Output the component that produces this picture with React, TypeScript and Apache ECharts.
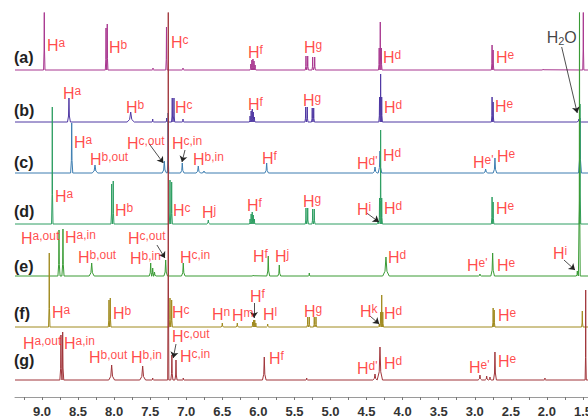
import React, { useEffect, useRef } from 'react';
import * as echarts from 'echarts';

const FONT = '"Liberation Sans", Arial, Helvetica, sans-serif';

// x axis (ppm)
const X_MIN = 1.43;
const X_MAX = 9.374;
const TICK_LABELS = [9.0, 8.5, 8.0, 7.5, 7.0, 6.5, 6.0, 5.5, 5.0, 4.5, 4.0, 3.5, 3.0, 2.5, 2.0, 1.5];
const MINOR_TICKS = [9.25, 9.0, 8.75, 8.5, 8.25, 8.0, 7.75, 7.5, 7.25, 7.0, 6.75, 6.5, 6.25, 6.0, 5.75, 5.5, 5.25, 5.0, 4.75, 4.5, 4.25, 4.0, 3.75, 3.5, 3.25, 3.0, 2.75, 2.5, 2.25, 2.0, 1.75, 1.5];

// spectra names
const SPECTRA = ['(a)', '(b)', '(c)', '(d)', '(e)', '(f)', '(g)'];

// peaks: [ppm, intensity, half width (ppm)]
const PEAKS_A = [
  [8.968, 80, 0.01],
  [8.112, 42, 0.01], [8.095, 46, 0.01],
  [7.461, 2, 0.01],
  [7.274, 43, 0.01],
  [7.045, 2, 0.01],
  [6.105, 6, 0.01], [6.09, 10, 0.01], [6.075, 11, 0.01], [6.06, 9, 0.01], [6.045, 5, 0.01],
  [5.34, 14, 0.01], [5.316, 14, 0.01], [5.247, 13, 0.01], [5.219, 13, 0.01],
  [4.325, 22, 0.01], [4.31, 48, 0.01], [4.295, 22, 0.01],
  [2.76, 25, 0.01], [2.745, 20, 0.01],
  [2.05, 1, 0.01],
  [1.495, 80, 0.008],
];
const PEAKS_B = [
  [8.626, 24, 0.02],
  [7.77, 10, 0.05],
  [7.465, 3, 0.01],
  [7.271, 4, 0.01],
  [7.194, 24, 0.01], [7.17, 24, 0.01],
  [7.045, 3, 0.01],
  [6.115, 6, 0.01], [6.1, 11, 0.01], [6.085, 13, 0.01], [6.07, 10, 0.01], [6.055, 5, 0.01],
  [5.344, 15, 0.01], [5.322, 15, 0.01], [5.253, 14, 0.01], [5.233, 14, 0.01],
  [4.32, 25, 0.01], [4.305, 48, 0.01], [4.29, 25, 0.01],
  [2.76, 25, 0.01], [2.745, 20, 0.01],
  [1.555, 3, 0.03],
];
const PEAKS_C = [
  [8.588, 50, 0.015],
  [8.265, 8, 0.04],
  [7.304, 12, 0.03],
  [7.252, 60, 0.01],
  [7.055, 10, 0.025],
  [6.833, 7, 0.03], [6.754, 2, 0.03],
  [5.885, 10, 0.025],
  [4.383, 6, 0.03],
  [4.314, 22, 0.025],
  [2.849, 4, 0.03],
  [2.72, 15, 0.025],
  [1.541, 55, 0.02],
];
const PEAKS_D = [
  [8.857, 117, 0.01],
  [8.034, 40, 0.01], [8.012, 43, 0.01],
  [7.225, 44, 0.01], [7.202, 42, 0.01],
  [6.694, 4, 0.02],
  [6.115, 5, 0.01], [6.1, 10, 0.01], [6.085, 12, 0.01], [6.07, 9, 0.01], [6.055, 5, 0.01],
  [5.34, 16, 0.01], [5.316, 16, 0.01], [5.247, 15, 0.01], [5.225, 15, 0.01],
  [4.342, 3, 0.01],
  [4.32, 26, 0.01], [4.305, 94, 0.01], [4.29, 26, 0.01],
  [2.76, 27, 0.01], [2.745, 22, 0.01],
  [1.541, 120, 0.01],
];
const PEAKS_E = [
  [8.764, 46, 0.015],
  [8.709, 47, 0.015],
  [8.311, 13, 0.035],
  [7.493, 13, 0.02], [7.465, 8, 0.02], [7.44, 4, 0.02],
  [7.285, 16, 0.025],
  [7.041, 13, 0.025],
  [6.07, 1, 0.01],
  [5.863, 20, 0.02],
  [5.71, 11, 0.02],
  [5.294, 3, 0.01],
  [4.231, 19, 0.045],
  [2.928, 2, 0.02],
  [2.752, 23, 0.025],
  [1.578, 5, 0.015],
  [1.548, 300, 0.01],
];
const PEAKS_F = [
  [8.899, 74, 0.01],
  [8.071, 27, 0.01], [8.053, 29, 0.01],
  [7.225, 29, 0.01], [7.202, 27, 0.01],
  [6.5, 4, 0.015],
  [6.292, 4, 0.015],
  [6.08, 5, 0.01], [6.065, 7, 0.01], [6.05, 7, 0.01], [6.035, 4, 0.01],
  [5.871, 3, 0.015],
  [5.316, 10, 0.01], [5.294, 10, 0.01], [5.225, 10, 0.01], [5.201, 10, 0.01],
  [4.324, 3, 0.01],
  [4.305, 15, 0.01], [4.29, 32, 0.01], [4.275, 15, 0.01],
  [2.745, 19, 0.01], [2.73, 17, 0.01],
  [1.509, 16, 0.01],
];
const PEAKS_G = [
  [8.737, 45, 0.015],
  [8.713, 48, 0.015],
  [8.034, 15, 0.04],
  [7.604, 14, 0.04],
  [7.465, 2, 0.01],
  [7.249, 400, 0.008],
  [7.199, 25, 0.015],
  [7.142, 20, 0.015],
  [7.041, 2, 0.01],
  [5.918, 23, 0.025],
  [5.33, 2, 0.01],
  [4.383, 6, 0.03],
  [4.314, 33, 0.035],
  [2.928, 5, 0.025], [2.835, 4, 0.02], [2.789, 3, 0.015],
  [2.72, 28, 0.02],
  [2.027, 2, 0.01],
  [1.462, 90, 0.008],
];
const PEAKS = [PEAKS_A, PEAKS_B, PEAKS_C, PEAKS_D, PEAKS_E, PEAKS_F, PEAKS_G];

// vertical stacking offsets of each spectrum (y axis units)
const OFFSETS = [327, 275, 224, 173, 121, 70, 17];
const COLORS = ['#A8378F', '#4F38A3', '#3C7DB0', '#2E9E62', '#3A9B35', '#A08A1E', '#A0353A'];

// peak labels: [ppm, y, superscript]
const LABELS_A = [[8.931, 352, 'a'], [8.071, 350, 'b'], [7.212, 355, 'c'], [6.144, 345, 'f'], [5.368, 350, 'g'], [4.272, 340, 'd'], [2.706, 340, 'e']];
const LABELS_B = [[8.709, 304, 'a'], [7.835, 290, 'b'], [7.156, 290, 'c'], [6.144, 293, 'f'], [5.382, 297, 'g'], [4.259, 290, 'd'], [2.72, 291, 'e']];
const LABELS_C = [[8.556, 255, 'a'], [8.335, 238, 'b,out'], [7.822, 254, 'c,out'], [7.198, 254, 'c,in'], [6.907, 238, 'b,in'], [5.95, 239, 'f'], [4.633, 234, "d'"], [4.272, 242, 'd'], [3.025, 235, "e'"], [2.692, 241, 'e']];
const LABELS_D = [[8.82, 201, 'a'], [7.988, 187, 'b'], [7.184, 187, 'c'], [6.782, 185, 'j'], [6.158, 192, 'f'], [5.382, 196, 'g'], [4.633, 188, 'i'], [4.259, 189, 'd'], [2.706, 189, 'e']];
const LABELS_E = [[9.291, 159, 'a,out'], [8.681, 160, 'a,in'], [8.501, 140, 'b,out'], [7.808, 159, 'c,out'], [7.78, 139, 'b,in'], [7.087, 140, 'c,in'], [6.075, 141, 'f'], [5.77, 141, 'j'], [4.203, 140, 'd'], [3.108, 132, "e'"], [2.692, 132, 'e'], [1.916, 144, 'i']];
const LABELS_F = [[8.861, 85, 'a'], [8.016, 84, 'b'], [7.198, 85, 'c'], [6.643, 83, 'n'], [6.366, 82, 'm'], [6.116, 101, 'f'], [5.936, 83, 'l'], [5.368, 86, 'g'], [4.591, 86, 'k'], [4.259, 84, 'd'], [2.678, 82, 'e']];
const LABELS_G = [[9.263, 54, 'a,out'], [8.695, 54, 'a,in'], [8.348, 40, 'b,out'], [7.766, 40, 'b,in'], [7.198, 61, 'c,out'], [7.087, 41, 'c,in'], [5.853, 39, 'f'], [4.633, 29, "d'"], [4.259, 34, 'd'], [3.08, 30, "e'"], [2.678, 36, 'e']];
const LABELS = [LABELS_A, LABELS_B, LABELS_C, LABELS_D, LABELS_E, LABELS_F, LABELS_G];
const WATER_LABEL = [2.003, 360];

// arrows: [fromPpm, fromY, toPpm, toY]
const ARROWS = [
  [1.795, 350, 1.579, 284],
  [7.512, 253, 7.318, 234],
  [7.017, 247, 7.059, 235],
  [4.498, 184, 4.328, 175],
  [7.406, 152, 7.295, 139],
  [1.763, 137, 1.61, 127],
  [6.061, 94, 6.061, 79],
  [4.453, 81, 4.324, 73],
  [7.142, 53, 7.18, 39],
];

function buildSpectrum(peaks: number[][], offset: number) {
  const sorted = [...peaks].sort((a, b) => b[0] - a[0]);
  const pts: number[][] = [[X_MAX, offset]];
  for (const [p, h, w] of sorted) {
    pts.push([p + w, offset]);
    pts.push([p + 0.3 * w, offset + 0.25 * h]);
    pts.push([p, offset + h]);
    pts.push([p - 0.3 * w, offset + 0.25 * h]);
    pts.push([p - w, offset]);
  }
  pts.push([X_MIN, offset]);
  return pts;
}

const RED = '#FF1A1A';

export default function App() {
  const ref = useRef<HTMLDivElement>(null);
  useEffect(() => {
    const chart = echarts.init(ref.current!, null, { renderer: 'svg', width: 588, height: 418 });
    const spectraSeries = PEAKS.map((peaks, i) => ({
      type: 'line',
      name: SPECTRA[i],
      data: buildSpectrum(peaks, OFFSETS[i]),
      showSymbol: false,
      symbol: 'none',
      lineStyle: { color: COLORS[i], width: 1 },
      itemStyle: { color: COLORS[i] },
      silent: true,
      z: 2,
    }));
    const labelData: any[] = [];
    LABELS.forEach((arr) => arr.forEach((l) => labelData.push({ value: [l[0], l[1]], sup: l[2] })));
    const option: any = {
      animation: false,
      backgroundColor: '#ffffff',
      grid: { left: 15, width: 573, top: 13, height: 384, containLabel: false, outerBoundsMode: 'none' },
      xAxis: {
        type: 'value',
        inverse: true,
        min: X_MIN,
        max: X_MAX,
        axisLine: { show: true, lineStyle: { color: '#9a9a9a', width: 1 } },
        axisTick: { show: true, customValues: MINOR_TICKS, length: 3, lineStyle: { color: '#777' } },
        axisLabel: {
          customValues: TICK_LABELS,
          formatter: (v: number) => v.toFixed(1),
          fontFamily: FONT,
          fontWeight: 'bold',
          fontSize: 13,
          color: '#333',
          margin: 8,
        },
        splitLine: { show: false },
      },
      yAxis: { type: 'value', min: 0, max: 384, show: false },
      series: [
        ...spectraSeries,
        {
          type: 'scatter',
          symbolSize: 0,
          silent: true,
          z: 5,
          data: labelData,
          label: {
            show: true,
            position: 'right',
            distance: 0,
            formatter: (p: any) => `{h|H}{s|${p.data.sup}}`,
            rich: {
              h: { fontFamily: FONT, fontSize: 16, color: RED, lineHeight: 16 },
              s: { fontFamily: FONT, fontSize: 12, color: RED, lineHeight: 10, verticalAlign: 'top' },
            },
          },
          markLine: {
            silent: true,
            symbol: ['none', 'arrow'],
            symbolSize: 6,
            lineStyle: { color: '#222', width: 0.8, type: 'solid' },
            label: { show: false },
            emphasis: { disabled: true },
            data: ARROWS.map((a) => [{ coord: [a[0], a[1]] }, { coord: [a[2], a[3]] }]),
          },
        },
        {
          type: 'scatter',
          symbolSize: 0,
          silent: true,
          z: 5,
          data: [WATER_LABEL],
          label: {
            show: true,
            position: 'right',
            distance: 0,
            formatter: '{k|H}{b|2}{k|O}',
            rich: {
              k: { fontFamily: FONT, fontSize: 16, color: '#111', lineHeight: 18 },
              b: { fontFamily: FONT, fontSize: 11, color: '#111', lineHeight: 10, verticalAlign: 'bottom' },
            },
          },
        },
      ],
      graphic: SPECTRA.map((name, i) => ({
        type: 'text',
        left: 14,
        top: [49, 102, 154, 203, 258, 305, 352][i],
        style: { text: name, fontFamily: FONT, fontWeight: 'bold', fontSize: 16, fill: '#222' },
        silent: true,
      })),
    };
    chart.setOption(option);
    return () => chart.dispose();
  }, []);
  return <div ref={ref} style={{ position: 'absolute', left: 0, top: 0, width: 588, height: 418 }} />;
}
